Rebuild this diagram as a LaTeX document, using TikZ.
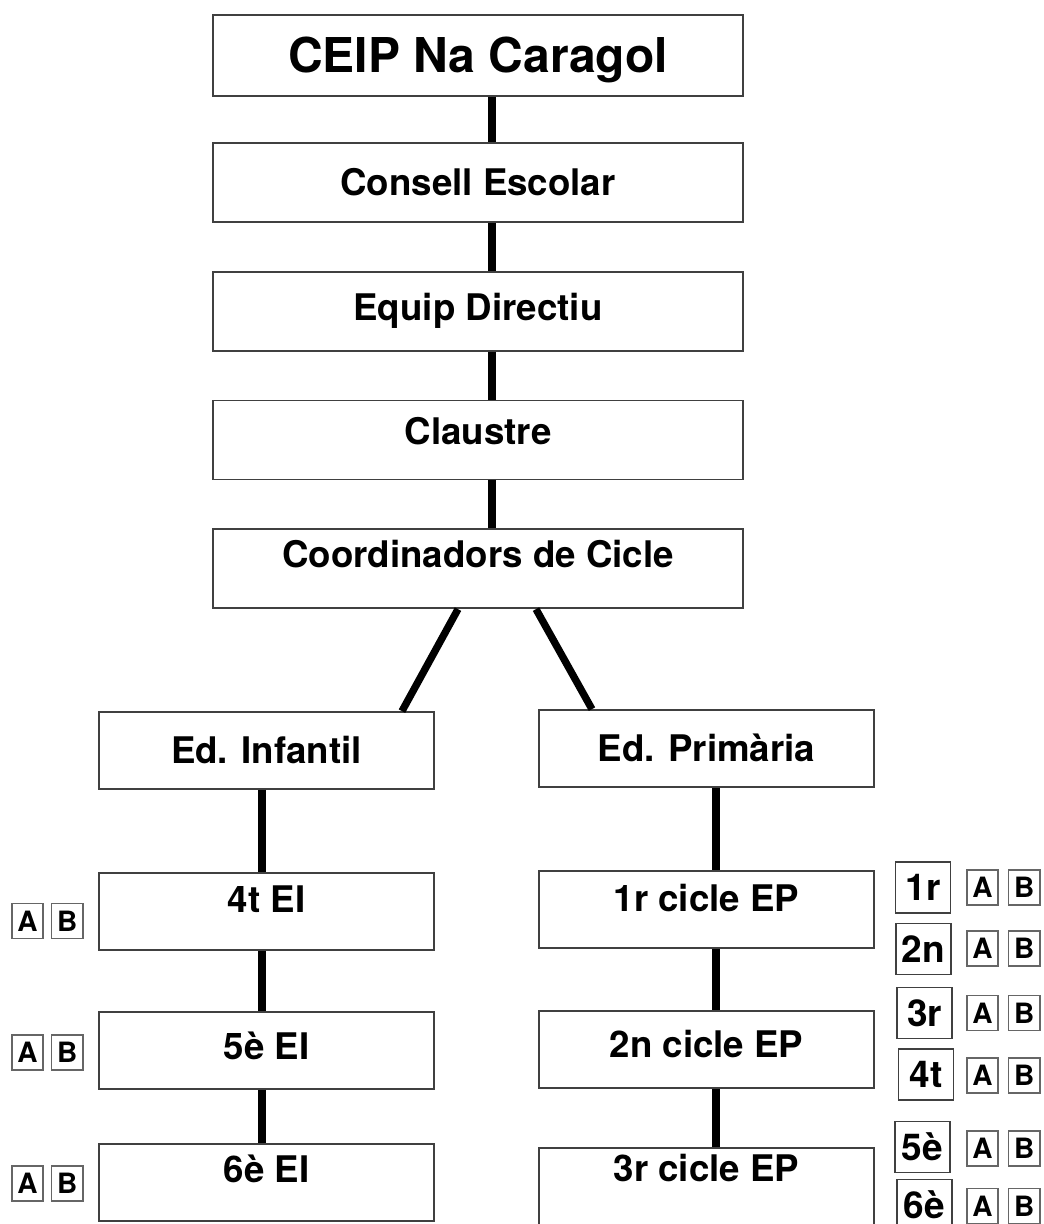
\documentclass[tikz,border=0pt]{standalone}
\usepackage{fontspec}
\setmainfont{TeX Gyre Heros}
\usetikzlibrary{positioning}

\begin{document}
\begin{tikzpicture}[x=0.75pt, y=-0.75pt,
  node distance=36pt and 6.75pt,
  unit/.style={draw=black!75, line width=1.3pt, fill=white, minimum width=397.5pt,
               minimum height=59.25pt, inner sep=0pt, text height=19.8pt, text depth=0pt,
               font=\bfseries\fontsize{27.5}{30}\selectfont},
  head/.style={unit, minimum height=60.75pt, text height=26pt,
               font=\bfseries\fontsize{36}{40}\selectfont},
  stage/.style={unit, minimum width=251.25pt, minimum height=57.75pt},
  lift/.style={text depth=#1},
  grade/.style={draw=black!75, line width=1.1pt, minimum width=41pt, minimum height=38pt,
                inner sep=0pt, text height=20pt, text depth=0pt,
                font=\bfseries\fontsize{27.75}{30}\selectfont},
  grp/.style={draw=black!60, line width=1.1pt, minimum width=23.5pt, minimum height=26.5pt,
              inner sep=0pt, text height=15pt, text depth=0pt,
              font=\bfseries\fontsize{21}{22}\selectfont},
  link/.style={line width=5.5pt}]
\useasboundingbox (0,0) rectangle (1044,1224);
% governing bodies
\node[head] (school) at (478,55.5) {CEIP Na Caragol};
\node[unit, below=34pt of school] (council) {Consell Escolar};
\node[unit, below=of council, lift=6pt] (board) {Equip Directiu};
\node[unit, below=of board, lift=13.5pt] (staff) {Claustre};
\node[unit, below=of staff, lift=21pt] (coord) {Coordinadors de Cicle};
% stages
\node[stage] (infant) at (266.5,750.5) {Ed. Infantil};
\node[stage] (primary) at (706.5,748.5) {Ed. Primària};
\node[stage, below=61.7pt of infant, lift=19pt] (ei4) {4t EI};
\node[stage, below=45.2pt of ei4, lift=7pt] (ei5) {5è EI};
\node[stage, below=40pt of ei5, lift=19.5pt] (ei6) {6è EI};
\node[stage, below=61.7pt of primary, lift=16.5pt] (ep1) {1r cicle EP};
\node[stage, below=46pt of ep1, lift=7.5pt] (ep2) {2n cicle EP};
\node[stage, below=43.7pt of ep2, lift=28pt] (ep3) {3r cicle EP};
% connectors
\foreach \a/\b in {school/council,council/board,board/staff,staff/coord}
  {\draw[link] ([xshift=10.5pt]\a.south) -- ([xshift=10.5pt]\b.north);}
\draw[link] ([xshift=-15pt]coord.south) -- ([xshift=101.6pt]infant.north);
\draw[link] ([xshift=43.5pt]coord.south) -- ([xshift=-85.9pt]primary.north);
\foreach \a/\b in {infant/ei4,ei4/ei5,ei5/ei6}
  {\draw[link] ([xshift=-3.4pt]\a.south) -- ([xshift=-3.4pt]\b.north);}
\foreach \a/\b in {primary/ep1,ep1/ep2,ep2/ep3}
  {\draw[link] ([xshift=7.1pt]\a.south) -- ([xshift=7.1pt]\b.north);}
% class groups, infant
\foreach \y [count=\i] in {921,1052.5,1183.5}
  {\node[grp] (la\i) at (27.5,\y) {A};
   \node[grp, right=5.25pt of la\i] (lb\i) {B};}
% class groups, primary
\foreach \g/\gx/\gy/\ay [count=\i] in {1r/923/887.5/887.5, 2n/923.5/949/948.5,
    3r/924.5/1013/1013, 4t/926/1074.5/1075.5, 5è/922.5/1147/1148.5, 6è/924.5/1205/1206}
  {\node[grade] (g\i) at (\gx,\gy) {\g};
   \node[grp] (ra\i) at (982.5,\ay) {A};
   \node[grp, right=of ra\i] (rb\i) {B};}
\end{tikzpicture}
\end{document}
